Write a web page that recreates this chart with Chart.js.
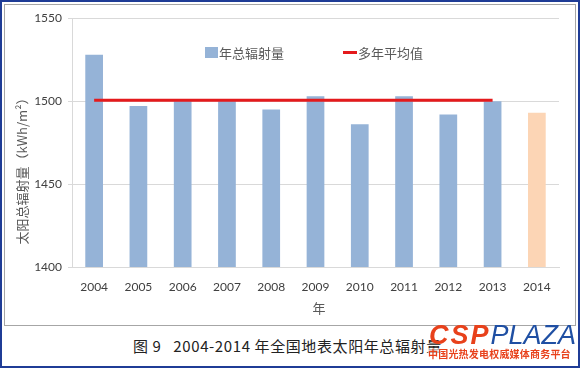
<!DOCTYPE html>
<html>
<head>
<meta charset="utf-8">
<script src="https://cdn.jsdelivr.net/npm/chart.js@4.4.1/dist/chart.umd.min.js"></script>
<style>
  html, body { margin: 0; padding: 0; background: #fff; }
  #page { position: relative; width: 576px; height: 364px; border: 2px solid #1f3c96; overflow: hidden; }
  #box { position: absolute; left: 2px; top: 2px; width: 570px; height: 320px; border: 1px solid #a6a6a6; }
  #caption { position: absolute; left: 131px; top: 333px; font: 15px "Noto Sans CJK SC", serif; color: #222; white-space: pre; letter-spacing: 0.6px; }
  #logo { position: absolute; left: 427px; top: 319px; font-family: "Liberation Sans", Arial, sans-serif; font-style: italic; font-size: 27px; line-height: 28px; white-space: nowrap; }
  #logo .csp { color: #e8411b; font-weight: bold; letter-spacing: 2px; }
  #logo .plaza { color: #1f4fa3; }
  #slogan { position: absolute; left: 426px; top: 346px; font: bold 10px "Noto Sans CJK SC", sans-serif; line-height: 12px; color: #e8411b; letter-spacing: 0.2px; background: rgba(255,255,255,0.6); }
</style>
</head>
<body>
<div id="page">
  <div id="box"><canvas id="chart" width="570" height="320"></canvas></div>
  <div id="caption">图 9   2004-2014 年全国地表太阳年总辐射量</div>
  <div id="logo"><span class="csp">CSP</span><span class="plaza">PLAZA</span></div>
  <div id="slogan">中国光热发电权威媒体商务平台</div>
</div>
<script>
// Data
const years = ["2004", "2005", "2006", "2007", "2008", "2009", "2010", "2011", "2012", "2013", "2014"];
const radiation = [1528, 1497, 1501, 1501, 1495, 1503, 1486, 1503, 1492, 1500, 1493];
const average = [1500.6, 1500.6, 1500.6, 1500.6, 1500.6, 1500.6, 1500.6, 1500.6, 1500.6, 1500.6, null];
const yTicks = [1400, 1450, 1500, 1550];

const barBlue = '#95b3d7';
const barPeach = '#fcd5b5';
const lineRed = '#e41a1c';
const labelFont = '"Noto Sans CJK SC", sans-serif';

// draw legend and axis titles on the canvas
const textPlugin = {
  id: 'texts',
  afterDraw(chart) {
    const c = chart.ctx;
    c.save();
    c.fillStyle = barBlue;
    c.fillRect(200, 42, 13, 11);
    c.fillStyle = lineRed;
    c.fillRect(338, 46, 14, 3);
    c.font = '13px ' + labelFont;
    c.fillStyle = '#595959';
    c.textBaseline = 'middle';
    c.fillText('年总辐射量', 214, 48);
    c.fillText('多年平均值', 353, 48);
    c.textAlign = 'center';
    c.fillText('年', 314, 303);
    c.translate(17, 163);
    c.rotate(-Math.PI / 2);
    c.fillText('太阳总辐射量（kWh/m²）', 0, 0);
    c.restore();
  }
};

new Chart(document.getElementById('chart'), {
  data: {
    labels: years,
    datasets: [
      {
        type: 'line',
        label: '多年平均值',
        data: average,
        borderColor: lineRed,
        borderWidth: 3,
        pointRadius: 0,
        fill: false,
        order: 0
      },
      {
        type: 'bar',
        label: '年总辐射量',
        data: radiation,
        backgroundColor: years.map((y, i) => i === years.length - 1 ? barPeach : barBlue),
        barPercentage: 0.4,
        categoryPercentage: 1,
        order: 1
      }
    ]
  },
  plugins: [textPlugin],
  options: {
    responsive: false,
    animation: false,
    layout: { padding: { top: 12, right: 16, bottom: 0, left: 0 } },
    scales: {
      x: {
        grid: { display: false, drawTicks: false },
        border: { color: '#d9d9d9' },
        ticks: { color: '#404040', font: { family: 'Lato, sans-serif', size: 12 }, padding: 13 },
        afterFit: (scale) => { scale.height = 58; }
      },
      y: {
        min: 1400,
        max: 1550,
        afterBuildTicks: (scale) => { scale.ticks = yTicks.map(v => ({ value: v })); },
        grid: { color: '#d9d9d9', tickLength: 4 },
        border: { color: '#d9d9d9' },
        ticks: { color: '#404040', font: { family: 'Lato, sans-serif', size: 12 }, padding: 6, callback: (v) => String(v) },
        afterFit: (scale) => { scale.width = 67; }
      }
    },
    plugins: {
      legend: { display: false },
      tooltip: { enabled: false }
    }
  }
});
</script>
</body>
</html>
